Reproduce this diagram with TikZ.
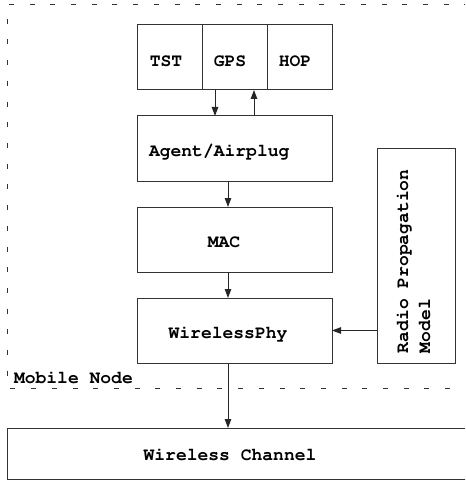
\documentclass[tikz,border=0pt]{standalone}
\usepackage[T1]{fontenc}
\usepackage{courier}
\usetikzlibrary{arrows.meta}
\begin{document}
\begin{tikzpicture}[x=1pt,y=-1pt,
  every node/.style={inner sep=0pt,outer sep=0pt},
  blk/.style={draw=black!80,line width=1pt,minimum width=195pt,minimum height=65pt},
  cell/.style={draw=black!80,line width=1pt,minimum width=65pt,minimum height=65pt},
  lbl/.style={font=\fontsize{18}{22}\selectfont\ttfamily\bfseries,text=black,anchor=base},
  arr/.style={draw=black!85,line width=1pt,-{Triangle[length=9pt,width=6.5pt]}},
  nodeframe/.style={draw=black!80,line width=1pt,dash pattern=on 5pt off 15.7pt}]
\useasboundingbox (0,0) rectangle (465,481);
\clip (0,0) rectangle (465,481);
\fill[white] (0,0) rectangle (465,481);

% frame of the mobile node (runs past the right edge)
\draw[nodeframe] (490,5) -- (7,5) -- (7,388) -- (490,388);
\node[lbl,anchor=base west] (mnlbl) at (14,383) {Mobile Node};

% routing agents
\node[cell] (tst) at (169.5,57.5) {};
\node[cell] (gps) at (234.5,57.5) {};
\node[cell] (hop) at (299.5,57.5) {};
\node[lbl] (tsttxt) at (166,67) {TST};
\node[lbl] (gpstxt) at (230,67) {GPS};
\node[lbl] (hoptxt) at (295,67) {HOP};

% protocol stack
\node[blk] (agent) at (234.5,148.5) {};
\node[lbl,anchor=base west] (agenttxt) at (149,157) {Agent/Airplug};
\node[blk] (mac) at (234.5,239.5) {};
\node[lbl] (mactxt) at (224,247) {MAC};
\node[blk] (phy) at (234.5,330.5) {};
\node[lbl] (phytxt) at (228,338) {WirelessPhy};

% propagation model
\node[draw=black!80,line width=1pt,minimum width=78pt,minimum height=214pt] (radio) at (416,256) {};
\node[lbl,anchor=base west,rotate=90] (radiotxt) at (408,353) {Radio Propagation};
\node[lbl,anchor=base west,rotate=90] (modeltxt) at (430,353) {Model};

% channel
\node[draw=black!80,line width=1pt,minimum width=468pt,minimum height=51pt] (chan) at (241,453.5) {};
\node[lbl] (chantxt) at (230,460) {Wireless Channel};

% connectors
\draw[arr] ([xshift=-19.5pt]gps.south) -- ([xshift=-19.5pt]agent.north);
\draw[arr] ([xshift=19.5pt]agent.north) -- ([xshift=19.5pt]gps.south);
\draw[arr] ([xshift=-6.5pt]agent.south) -- ([xshift=-6.5pt]mac.north);
\draw[arr] ([xshift=-6.5pt]mac.south) -- ([xshift=-6.5pt]phy.north);
\draw[arr] ([xshift=-6.5pt]phy.south) -- ([xshift=-6.5pt]phy.south |- chan.north);
\draw[arr] (radio.west |- phy.east) -- (phy.east);
\end{tikzpicture}
\end{document}
